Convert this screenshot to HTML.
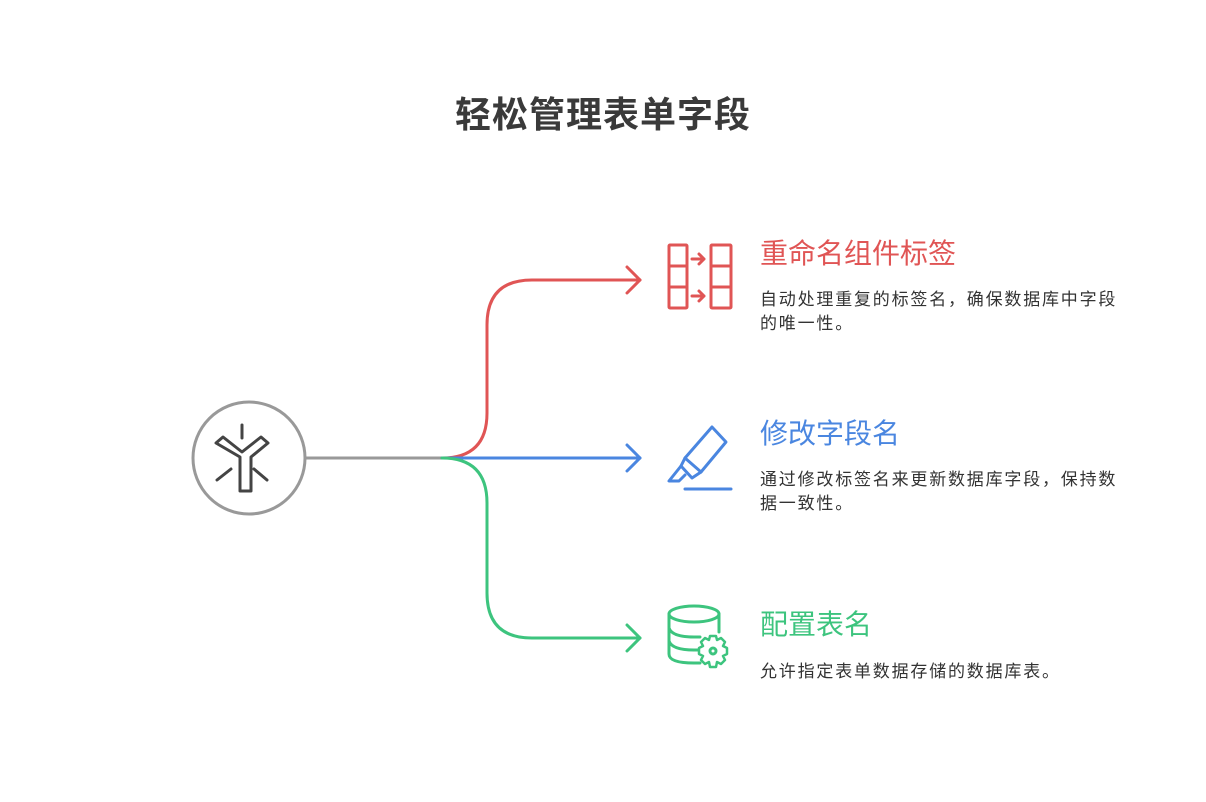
<!DOCTYPE html>
<html><head><meta charset="utf-8"><style>
body{margin:0;width:1206px;height:802px;background:#fff;position:relative;overflow:hidden;font-family:"Liberation Sans","Noto Sans CJK SC",sans-serif}
.t{position:absolute;white-space:nowrap}
.h{font-size:28px;line-height:32px}
.d{font-size:17px;line-height:24px;color:#333;letter-spacing:1.8px;width:370px;white-space:normal}
</style></head><body>
<div class="t" style="left:455px;top:86px;font-size:36px;font-weight:bold;color:#3a3a3a;letter-spacing:1px">轻松管理表单字段</div>
<svg width="1206" height="802" style="position:absolute;left:0;top:0" fill="none" stroke-linecap="round" stroke-linejoin="round">
<circle cx="249" cy="458" r="56" stroke="#999" stroke-width="3"/>
<line x1="306" y1="458" x2="442" y2="458" stroke="#999" stroke-width="3"/>
<path d="M442 458 Q487 458 487 413 V325 Q487 280 532 280 H640" stroke="#e05555" stroke-width="3"/>
<path d="M627 267 L640 280 L627 293" stroke="#e05555" stroke-width="3"/>
<path d="M442 458 H640" stroke="#4a86e0" stroke-width="3"/>
<path d="M627 445 L640 458 L627 471" stroke="#4a86e0" stroke-width="3"/>
<path d="M442 458 Q487 458 487 503 V593 Q487 638 532 638 H640" stroke="#3dc47e" stroke-width="3"/>
<path d="M627 625 L640 638 L627 651" stroke="#3dc47e" stroke-width="3"/>
<g stroke="#444" stroke-width="3">
<path d="M216 443 L223 437 L242 452 L261 437 L268 443 L251 457 V491 H240 V457 Z"/>
<line x1="242" y1="425" x2="242" y2="438"/>
<line x1="231" y1="469" x2="217" y2="480"/>
<line x1="254" y1="469" x2="267" y2="480"/>
</g>
<g stroke="#e05555" stroke-width="3">
<rect x="669" y="245" width="18" height="63" rx="1"/>
<line x1="669" y1="266" x2="687" y2="266"/><line x1="669" y1="287" x2="687" y2="287"/>
<rect x="711" y="245" width="20" height="63" rx="1"/>
<line x1="711" y1="266" x2="731" y2="266"/><line x1="711" y1="287" x2="731" y2="287"/>
<path d="M692 259 H704 M699 254 L704 259 L699 264"/>
<path d="M692 296 H704 M699 291 L704 296 L699 301"/>
</g>
<g stroke="#4a86e0" stroke-width="3">
<path d="M712 427 L726 442 L701 472 L685 458 Z"/>
<path d="M685 458 L681 466 L692 478 L701 472"/>
<path d="M681 466 L669 481 H679 L685 475"/>
<line x1="685" y1="489" x2="731" y2="489"/>
</g>
<g stroke="#3dc47e" stroke-width="3">
<ellipse cx="694" cy="614" rx="25" ry="8"/>
<path d="M669 614 V654 Q669 663 694 663 H700"/>
<path d="M719 614 V632"/>
<path d="M669 628 Q672 637 694 637 H700"/>
<path d="M669 641 Q672 650 694 650 H698"/>
<path d="M710 636 H716 L717 640 L721 638 L725 642 L723 646 L727 648 V654 L723 656 L725 660 L721 664 L717 662 L716 667 H710 L709 662 L705 664 L701 660 L703 656 L699 654 V648 L703 646 L701 642 L705 638 L709 640 Z" stroke-width="2.5"/>
<circle cx="713" cy="651" r="3"/>
</g>
</svg>
<div class="t h" style="left:760px;top:238px;color:#e05555">重命名组件标签</div>
<div class="t d" style="left:760px;top:288px">自动处理重复的标签名，确保数据库中字段的唯一性。</div>
<div class="t h" style="left:760px;top:418px;color:#4a86e0">修改字段名</div>
<div class="t d" style="left:760px;top:468px">通过修改标签名来更新数据库字段，保持数据一致性。</div>
<div class="t h" style="left:760px;top:609px;color:#3dc47e">配置表名</div>
<div class="t d" style="left:760px;top:660px">允许指定表单数据存储的数据库表。</div>
</body></html>
